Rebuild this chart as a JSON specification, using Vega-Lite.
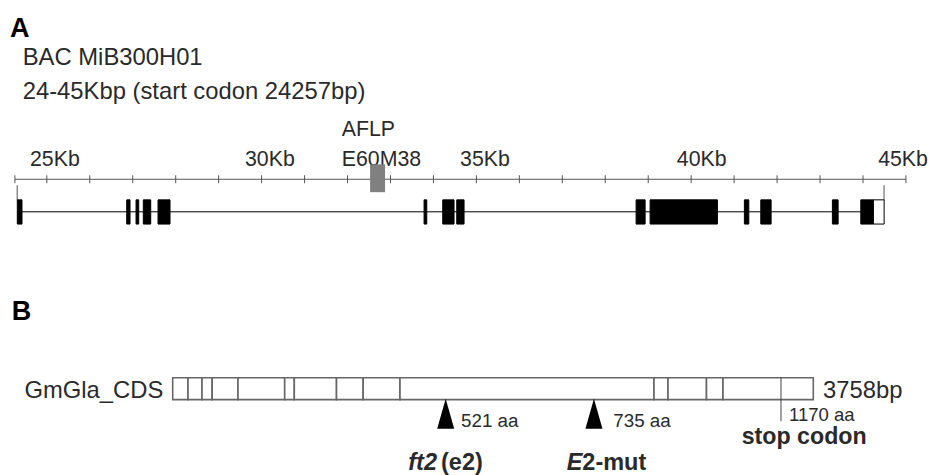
{
  "$schema": "https://vega.github.io/schema/vega-lite/v6.json",
  "width": 930,
  "height": 475,
  "autosize": {"type": "fit", "contains": "padding"},
  "padding": 0,
  "background": "white",
  "config": {
    "view": {"stroke": null},
    "text": {"font": "Liberation Sans", "color": "#2a2a2a", "baseline": "alphabetic"}
  },
  "datasets": {
    "ruler": [{"from": 24.257, "to": 45.0}],
    "ticks": [
      {"kb": 24.257}, {"kb": 25}, {"kb": 26}, {"kb": 27}, {"kb": 28}, {"kb": 29}, {"kb": 30},
      {"kb": 31}, {"kb": 32}, {"kb": 33}, {"kb": 34}, {"kb": 35}, {"kb": 36}, {"kb": 37},
      {"kb": 38}, {"kb": 39}, {"kb": 40}, {"kb": 41}, {"kb": 42}, {"kb": 43}, {"kb": 44}, {"kb": 45}
    ],
    "rulerLabels": [
      {"kb": 24.608, "label": "25Kb"},
      {"kb": 29.614, "label": "30Kb"},
      {"kb": 31.866, "label": "E60M38"},
      {"kb": 34.62, "label": "35Kb"},
      {"kb": 39.666, "label": "40Kb"},
      {"kb": 44.353, "label": "45Kb"}
    ],
    "intron": [{"from": 24.31, "to": 44.24}],
    "geneEnds": [{"kb": 24.31}, {"kb": 44.49}],
    "aflp": [{"from": 32.525, "to": 32.874}],
    "exons": [
      {"exon": 1, "start": 24.313, "end": 24.422, "part": "coding"},
      {"exon": 2, "start": 26.86, "end": 26.937, "part": "coding"},
      {"exon": 3, "start": 27.077, "end": 27.139, "part": "coding"},
      {"exon": 4, "start": 27.246, "end": 27.419, "part": "coding"},
      {"exon": 5, "start": 27.589, "end": 27.868, "part": "coding"},
      {"exon": 6, "start": 33.782, "end": 33.845, "part": "coding"},
      {"exon": 7, "start": 34.217, "end": 34.48, "part": "coding"},
      {"exon": 8, "start": 34.543, "end": 34.713, "part": "coding"},
      {"exon": 9, "start": 38.718, "end": 38.928, "part": "coding"},
      {"exon": 10, "start": 39.044, "end": 40.611, "part": "coding"},
      {"exon": 11, "start": 41.239, "end": 41.342, "part": "coding"},
      {"exon": 12, "start": 41.621, "end": 41.861, "part": "coding"},
      {"exon": 13, "start": 43.288, "end": 43.421, "part": "coding"},
      {"exon": 14, "start": 43.949, "end": 44.243, "part": "coding"},
      {"exon": 14, "start": 44.243, "end": 44.492, "part": "utr"}
    ],
    "cds": [
      {"exon": 1, "start": 0, "end": 89.8},
      {"exon": 2, "start": 89.8, "end": 171.9},
      {"exon": 3, "start": 171.9, "end": 231.7},
      {"exon": 4, "start": 231.7, "end": 383.1},
      {"exon": 5, "start": 383.1, "end": 657.0},
      {"exon": 6, "start": 657.0, "end": 713.4},
      {"exon": 7, "start": 713.4, "end": 960.9},
      {"exon": 8, "start": 960.9, "end": 1117.5},
      {"exon": 9, "start": 1117.5, "end": 1333.4},
      {"exon": 10, "start": 1333.4, "end": 2823.5},
      {"exon": 11, "start": 2823.5, "end": 2905.6},
      {"exon": 12, "start": 2905.6, "end": 3131.5},
      {"exon": 13, "start": 3131.5, "end": 3228.3},
      {"exon": 14, "start": 3228.3, "end": 3758}
    ],
    "mutations": [{"bp": 1601.5, "aa": 521}, {"bp": 2471.2, "aa": 735}],
    "aaLabels": [
      {"bp": 1691.3, "label": "521 aa"},
      {"bp": 2584.7, "label": "735 aa"}
    ],
    "stop": [{"bp": 3568.5}]
  },
  "resolve": {"scale": {"x": "independent"}},
  "layer": [
    {
      "layer": [
        {
          "data": {"values": [{"kb": 24.143, "label": "A"}]},
          "mark": {"type": "text", "align": "left", "fontSize": 27, "fontWeight": "bold", "color": "black"},
          "encoding": {
            "x": {"field": "kb", "type": "quantitative", "scale": {"domain": [23.91, 45.56], "nice": false, "zero": false}, "axis": null},
            "y": {"datum": 37, "type": "quantitative", "scale": {"domain": [0, 475], "reverse": true, "nice": false, "zero": false}, "axis": null},
            "text": {"field": "label"}
          }
        },
        {
          "data": {"values": [{"kb": 24.439, "label": "BAC MiB300H01"}]},
          "mark": {"type": "text", "align": "left", "fontSize": 23.8},
          "encoding": {
            "x": {"field": "kb", "type": "quantitative"},
            "y": {"datum": 65, "type": "quantitative"},
            "text": {"field": "label"}
          }
        },
        {
          "data": {"values": [{"kb": 24.439, "label": "24-45Kbp (start codon 24257bp)"}]},
          "mark": {"type": "text", "align": "left", "fontSize": 23.8},
          "encoding": {
            "x": {"field": "kb", "type": "quantitative"},
            "y": {"datum": 99, "type": "quantitative"},
            "text": {"field": "label"}
          }
        },
        {
          "data": {"values": [{"kb": 31.866, "label": "AFLP"}]},
          "mark": {"type": "text", "align": "left", "fontSize": 21.3},
          "encoding": {
            "x": {"field": "kb", "type": "quantitative"},
            "y": {"datum": 137, "type": "quantitative"},
            "text": {"field": "label"}
          }
        },
        {
          "data": {"name": "rulerLabels"},
          "mark": {"type": "text", "align": "left", "fontSize": 21.3},
          "encoding": {
            "x": {"field": "kb", "type": "quantitative"},
            "y": {"datum": 167, "type": "quantitative"},
            "text": {"field": "label"}
          }
        },
        {
          "data": {"name": "ruler"},
          "mark": {"type": "rule", "color": "#555555", "strokeWidth": 1},
          "encoding": {
            "x": {"field": "from", "type": "quantitative"},
            "x2": {"field": "to"},
            "y": {"datum": 180, "type": "quantitative"}
          }
        },
        {
          "data": {"name": "ticks"},
          "mark": {"type": "rule", "color": "#555555", "strokeWidth": 1},
          "encoding": {
            "x": {"field": "kb", "type": "quantitative"},
            "y": {"datum": 176, "type": "quantitative"},
            "y2": {"datum": 184}
          }
        },
        {
          "data": {"name": "geneEnds"},
          "mark": {"type": "rule", "color": "#555555", "strokeWidth": 1},
          "encoding": {
            "x": {"field": "kb", "type": "quantitative"},
            "y": {"datum": 186, "type": "quantitative"},
            "y2": {"datum": 201}
          }
        },
        {
          "data": {"name": "aflp"},
          "mark": {"type": "rect", "color": "#808080"},
          "encoding": {
            "x": {"field": "from", "type": "quantitative"},
            "x2": {"field": "to"},
            "y": {"datum": 165, "type": "quantitative"},
            "y2": {"datum": 193}
          }
        },
        {
          "data": {"name": "intron"},
          "mark": {"type": "rule", "color": "black", "strokeWidth": 1},
          "encoding": {
            "x": {"field": "from", "type": "quantitative"},
            "x2": {"field": "to"},
            "y": {"datum": 212.7, "type": "quantitative"}
          }
        },
        {
          "data": {"name": "exons"},
          "mark": {"type": "rect", "stroke": "black", "strokeWidth": 1},
          "encoding": {
            "x": {"field": "start", "type": "quantitative"},
            "x2": {"field": "end"},
            "y": {"datum": 200.7, "type": "quantitative"},
            "y2": {"datum": 225},
            "fill": {"field": "part", "type": "nominal", "scale": {"domain": ["coding", "utr"], "range": ["black", "white"]}, "legend": null}
          }
        }
      ]
    },
    {
      "layer": [
        {
          "data": {"values": [{"bp": -944.5, "label": "B"}]},
          "mark": {"type": "text", "align": "left", "fontSize": 27, "fontWeight": "bold", "color": "black"},
          "encoding": {
            "x": {"field": "bp", "type": "quantitative", "scale": {"domain": [-1013.1, 4442.6], "nice": false, "zero": false}, "axis": null},
            "y": {"datum": 321, "type": "quantitative"},
            "text": {"field": "label"}
          }
        },
        {
          "data": {"values": [{"bp": -55.1, "label": "GmGla_CDS"}]},
          "mark": {"type": "text", "align": "right", "fontSize": 23.8},
          "encoding": {
            "x": {"field": "bp", "type": "quantitative"},
            "y": {"datum": 400, "type": "quantitative"},
            "text": {"field": "label"}
          }
        },
        {
          "data": {"values": [{"bp": 3814.9, "label": "3758bp"}]},
          "mark": {"type": "text", "align": "left", "fontSize": 23.8},
          "encoding": {
            "x": {"field": "bp", "type": "quantitative"},
            "y": {"datum": 400, "type": "quantitative"},
            "text": {"field": "label"}
          }
        },
        {
          "data": {"name": "cds"},
          "mark": {"type": "rect", "fill": "white", "stroke": "#666666", "strokeWidth": 1.6},
          "encoding": {
            "x": {"field": "start", "type": "quantitative"},
            "x2": {"field": "end"},
            "y": {"datum": 379.3, "type": "quantitative"},
            "y2": {"datum": 401.3}
          }
        },
        {
          "data": {"name": "stop"},
          "mark": {"type": "rule", "color": "#444444", "strokeWidth": 1},
          "encoding": {
            "x": {"field": "bp", "type": "quantitative"},
            "y": {"datum": 379.3, "type": "quantitative"},
            "y2": {"datum": 423}
          }
        },
        {
          "data": {"name": "mutations"},
          "mark": {"type": "point", "shape": "M0,-1L0.567,1L-0.567,1Z", "filled": true, "size": 900, "color": "black", "opacity": 1},
          "encoding": {
            "x": {"field": "bp", "type": "quantitative"},
            "y": {"datum": 415.5, "type": "quantitative"}
          }
        },
        {
          "data": {"name": "aaLabels"},
          "mark": {"type": "text", "align": "left", "fontSize": 18.8},
          "encoding": {
            "x": {"field": "bp", "type": "quantitative"},
            "y": {"datum": 428.5, "type": "quantitative"},
            "text": {"field": "label"}
          }
        },
        {
          "data": {"values": [{"bp": 3615.4, "label": "1170 aa"}]},
          "mark": {"type": "text", "align": "left", "fontSize": 18.5},
          "encoding": {
            "x": {"field": "bp", "type": "quantitative"},
            "y": {"datum": 423, "type": "quantitative"},
            "text": {"field": "label"}
          }
        },
        {
          "data": {"values": [{"bp": 3338.0, "label": "stop codon"}]},
          "mark": {"type": "text", "align": "left", "fontSize": 23.2, "fontWeight": "bold"},
          "encoding": {
            "x": {"field": "bp", "type": "quantitative"},
            "y": {"datum": 446, "type": "quantitative"},
            "text": {"field": "label"}
          }
        },
        {
          "data": {"values": [{"bp": 1382.1, "label": "ft2"}, {"bp": 2311.4, "label": "E"}]},
          "mark": {"type": "text", "align": "left", "fontSize": 23.5, "fontWeight": "bold", "fontStyle": "italic"},
          "encoding": {
            "x": {"field": "bp", "type": "quantitative"},
            "y": {"datum": 472, "type": "quantitative"},
            "text": {"field": "label"}
          }
        },
        {
          "data": {"values": [{"bp": 1574.0, "label": "(e2)"}, {"bp": 2403.0, "label": "2-mut"}]},
          "mark": {"type": "text", "align": "left", "fontSize": 23.5, "fontWeight": "bold"},
          "encoding": {
            "x": {"field": "bp", "type": "quantitative"},
            "y": {"datum": 472, "type": "quantitative"},
            "text": {"field": "label"}
          }
        }
      ]
    }
  ]
}
